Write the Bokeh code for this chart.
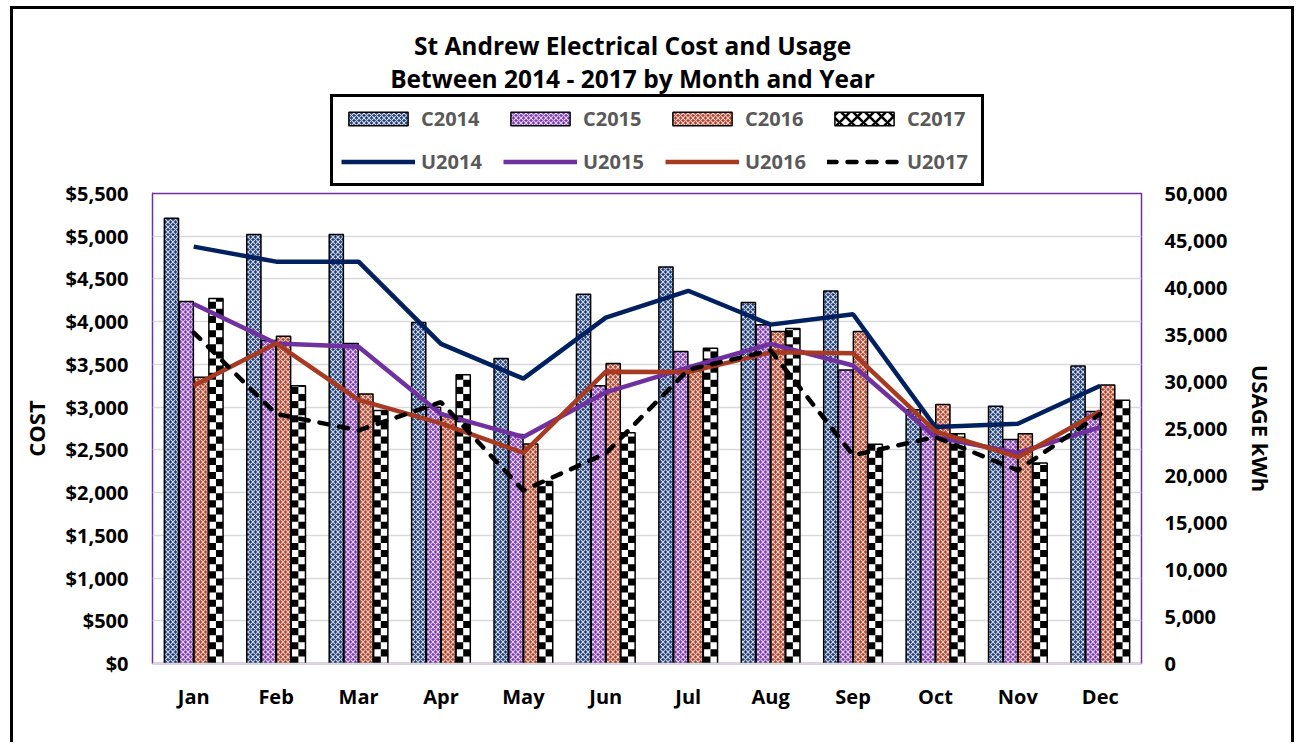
from bokeh.plotting import figure
from bokeh.layouts import column
from bokeh.models import (ColumnDataSource, FactorRange, Range1d, LinearAxis, NumeralTickFormatter,
                          SingleIntervalTicker, Legend, LegendItem, Label)
from bokeh.transform import dodge
from bokeh.embed import file_html
from bokeh.resources import INLINE

months = ["Jan", "Feb", "Mar", "Apr", "May", "Jun", "Jul", "Aug", "Sep", "Oct", "Nov", "Dec"]

C2014 = [5210, 5020, 5020, 3990, 3570, 4320, 4640, 4225, 4360, 2970, 3010, 3480]
C2015 = [4235, 3780, 3745, 3000, 2680, 3250, 3650, 3965, 3435, 2770, 2620, 2950]
C2016 = [3350, 3830, 3155, 2900, 2570, 3510, 3450, 3885, 3885, 3030, 2690, 3260]
C2017 = [4270, 3250, 2960, 3380, 2130, 2700, 3690, 3920, 2565, 2690, 2345, 3080]

U2014 = [44350, 42750, 42750, 34000, 30300, 36800, 39650, 36050, 37150, 25150, 25500, 29550]
U2015 = [38250, 34050, 33700, 26550, 24100, 28850, 31500, 34000, 31700, 24100, 22400, 25150]
U2016 = [29550, 34050, 28050, 25550, 22400, 31050, 31000, 33100, 33000, 24700, 21950, 26850]
U2017 = [35200, 26550, 24800, 27800, 18400, 22350, 31250, 33300, 22150, 24100, 20550, 26550]

cost_names = ["C2014", "C2015", "C2016", "C2017"]
usage_names = ["U2014", "U2015", "U2016", "U2017"]
title_lines = ["St Andrew Electrical Cost and Usage", "Between 2014 - 2017 by Month and Year"]

FONT = "Open Sans"
W = 1298
TOP_H = 193
OVERLAP = 14
MAIN_H = 742 - TOP_H + OVERLAP

bar_styles = {
    "C2014": dict(fill_color="#1F3A70", hatch_pattern="diagonal_cross", hatch_color="#DDE6F5",
                  hatch_scale=5, hatch_weight=1.2, hatch_alpha=0.9),
    "C2015": dict(fill_color="#7A3AAE", hatch_pattern="diagonal_cross", hatch_color="#EEDDFB",
                  hatch_scale=5, hatch_weight=1.2, hatch_alpha=0.9),
    "C2016": dict(fill_color="#B0402A", hatch_pattern="diagonal_cross", hatch_color="#F6DCD4",
                  hatch_scale=5, hatch_weight=1.2, hatch_alpha=0.9),
    "C2017": dict(fill_color="white", hatch_pattern="diagonal_cross", hatch_color="black",
                  hatch_scale=12, hatch_weight=2.6),
}
bar_offsets = {"C2014": -0.27, "C2015": -0.09, "C2016": 0.09, "C2017": 0.27}
BW = 0.172
LW = 4.5
line_styles = {
    "U2014": dict(line_color="#002060"),
    "U2015": dict(line_color="#7030A0"),
    "U2016": dict(line_color="#A93A22"),
    "U2017": dict(line_color="black", line_dash="9 11", line_cap="round"),
}

src = ColumnDataSource(dict(months=months, C2014=C2014, C2015=C2015, C2016=C2016, C2017=C2017,
                            U2014=U2014, U2015=U2015, U2016=U2016, U2017=U2017))

# ---------------- main chart ----------------
p = figure(x_range=FactorRange(*months, range_padding=0), y_range=Range1d(0, 5500),
           width=W, height=MAIN_H, output_backend="svg", toolbar_location=None, title=None,
           min_border_left=152, min_border_right=W - 1141, min_border_top=OVERLAP,
           min_border_bottom=742 - 663)
p.extra_y_ranges = {"usage": Range1d(0, 50000)}

p.outline_line_color = "#7030A0"
p.outline_line_width = 1.5
p.background_fill_color = "white"
p.border_fill_color = None

p.xgrid.grid_line_color = None
p.ygrid.grid_line_color = "#D9D9D9"
p.ygrid.grid_line_width = 1.5
p.ygrid.ticker = SingleIntervalTicker(interval=500)


def style_axis(a, standoff):
    a.axis_line_color = None
    a.major_tick_line_color = None
    a.minor_tick_line_color = None
    a.major_tick_out = 0
    a.major_tick_in = 0
    a.minor_tick_out = 0
    a.major_label_standoff = standoff
    a.major_label_text_font = FONT
    a.major_label_text_font_style = "bold"
    a.major_label_text_font_size = "20px"
    a.major_label_text_color = "#000000"
    a.axis_label_text_font = FONT
    a.axis_label_text_font_style = "bold"
    a.axis_label_text_color = "#000000"


ax = p.yaxis[0]
ax.ticker = SingleIntervalTicker(interval=500)
ax.formatter = NumeralTickFormatter(format="$0,0")
ax.axis_label = "COST"
style_axis(ax, 24)
ax.axis_label_text_font_size = "22px"
ax.axis_label_standoff = 12

ra = LinearAxis(y_range_name="usage", ticker=SingleIntervalTicker(interval=5000),
                formatter=NumeralTickFormatter(format="0,0"), axis_label="USAGE kWh")
style_axis(ra, 23)
ra.axis_label_text_font_size = "22px"
ra.axis_label_standoff = 16
p.add_layout(ra, "right")

xa = p.xaxis[0]
style_axis(xa, 19)
xa.axis_line_color = "#D9D9D9"
xa.axis_line_width = 1.5

for name in cost_names[:3]:
    p.vbar(x=dodge("months", bar_offsets[name], range=p.x_range), top=name, width=BW, source=src,
           line_color="black", line_width=1.5, **bar_styles[name])

# C2017: white bar with a checkerboard of black squares derived from the C2017 values
CHECK = 83.0  # height of one checker cell in cost units (about 7 px)
ck = {"L": dict(m=[], b=[], t=[]), "R": dict(m=[], b=[], t=[])}
for mth, v in zip(months, C2017):
    k = 0
    while k * CHECK < v:
        side = "L" if k % 2 == 0 else "R"
        ck[side]["m"].append(mth)
        ck[side]["b"].append(k * CHECK)
        ck[side]["t"].append(min((k + 1) * CHECK, v))
        k += 1
off17 = bar_offsets["C2017"]
p.vbar(x=dodge("months", off17, range=p.x_range), top="C2017", width=BW, source=src,
       fill_color="white", line_color=None)
p.quad(left=dodge("m", off17 - BW / 2, range=p.x_range), right=dodge("m", off17, range=p.x_range),
       bottom="b", top="t", source=ColumnDataSource(ck["L"]), fill_color="black", line_color=None)
p.quad(left=dodge("m", off17, range=p.x_range), right=dodge("m", off17 + BW / 2, range=p.x_range),
       bottom="b", top="t", source=ColumnDataSource(ck["R"]), fill_color="black", line_color=None)
p.vbar(x=dodge("months", off17, range=p.x_range), top="C2017", width=BW, source=src,
       fill_color=None, line_color="black", line_width=1.5)

for name in usage_names:
    p.line(x="months", y=name, source=src, y_range_name="usage", line_width=LW, **line_styles[name])

# ---------------- header: title + legend ----------------
top = figure(width=W, height=TOP_H, x_range=Range1d(0, 1), y_range=Range1d(0, 1),
             output_backend="svg", toolbar_location=None, title=None,
             x_axis_type=None, y_axis_type=None, min_border=0)
top.grid.visible = False
top.outline_line_color = None
top.background_fill_color = None
top.border_fill_color = None
top.margin = (0, 0, -OVERLAP, 0)

# legend swatches: glyphs placed outside the header's visible range
swatch = ColumnDataSource(dict(x=[-5.0], y=[-5.0]))
rend = {}
for name in cost_names:
    rend[name] = top.vbar(x="x", top="y", width=0.1, source=swatch, line_color="black",
                          line_width=1.5, **bar_styles[name])
for name in usage_names:
    rend[name] = top.line(x="x", y="y", source=swatch, line_width=LW, **line_styles[name])

order = []
for c, u in zip(cost_names, usage_names):
    order += [c, u]
items = [LegendItem(label=n, renderers=[rend[n]]) for n in order]

leg = Legend(items=items, ncols=4, location=(178, 7), margin=0, padding=8, spacing=16,
             glyph_width=74, glyph_height=17, label_standoff=6, label_width=66, label_height=20,
             border_line_color="black", border_line_width=3, border_line_alpha=1.0,
             background_fill_color="white", background_fill_alpha=1.0,
             label_text_font=FONT, label_text_font_style="bold", label_text_font_size="20px",
             label_text_color="#595959", label_text_baseline="middle")
top.add_layout(leg, "center")

for txt, yc in zip(title_lines, [45, 78]):
    top.add_layout(Label(x=480, y=TOP_H - yc, x_units="screen", y_units="screen", text=txt,
                         text_align="center", text_baseline="middle", text_font=FONT,
                         text_font_style="bold", text_font_size="24.5px", text_color="black"))

page = column(top, p, spacing=0,
              styles={"box-shadow": "inset 10px 6px 0 0 white, inset -4px 0 0 0 white, "
                                    "inset 13px 9px 0 0 black, inset -7px 0 0 0 black",
                      "background-color": "white"})

open("out.html", "w").write(file_html(page, INLINE))
